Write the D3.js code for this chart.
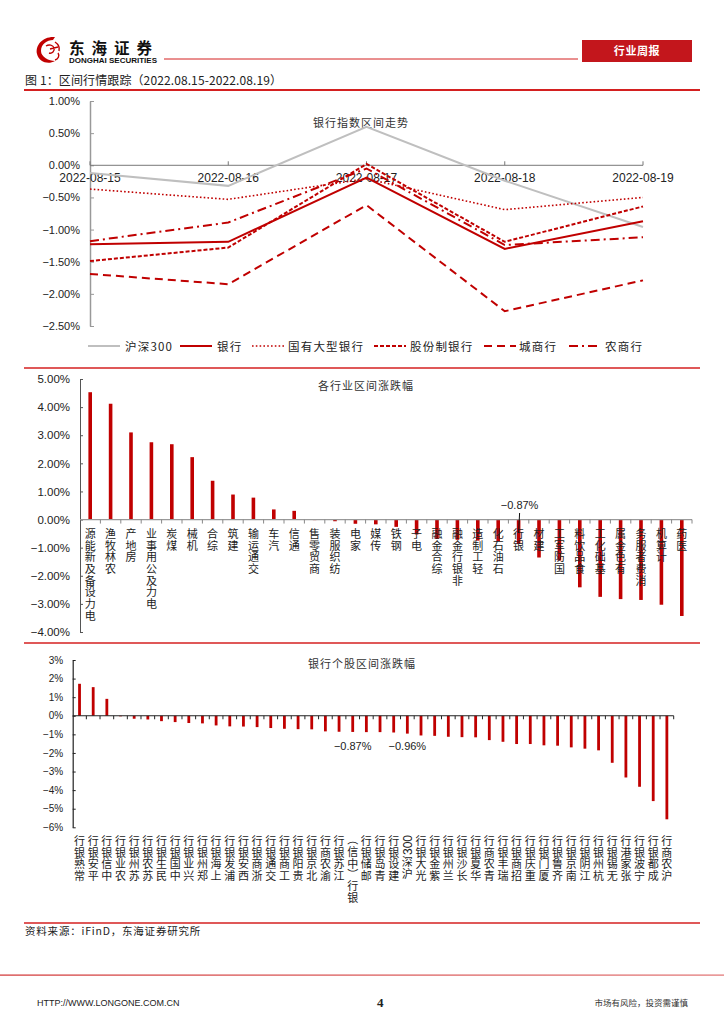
<!DOCTYPE html>
<html><head><meta charset="utf-8">
<script src="https://cdn.jsdelivr.net/npm/d3@7"></script>
<style>
body{margin:0;background:#fff;}
svg{display:block;}
.cjk{font-family:"Noto Sans CJK SC","Noto Sans",sans-serif;}
.num{font-family:"Liberation Sans",Arial,sans-serif;}
</style></head>
<body>
<svg id="c" width="724" height="1024"></svg>
<script>
// ---------- DATA ----------
const dates = ['2022-08-15','2022-08-16','2022-08-17','2022-08-18','2022-08-19'];
const lineNames = ['沪深300','银行','国有大型银行','股份制银行','城商行','农商行'];
const hs300   = [-0.12,-0.32, 0.60,-0.24,-0.96];
const bankIdx = [-1.23,-1.19,-0.19,-1.30,-0.87];
const bigBank = [-0.37,-0.53,-0.21,-0.69,-0.50];
const jointBank=[-1.49,-1.28, 0.02,-1.19,-0.64];
const cityBank= [-1.69,-1.85,-0.62,-2.27,-1.79];
const ruralBank=[-1.18,-0.89,-0.05,-1.24,-1.12];
const lineTicks = [1.0,0.5,0.0,-0.5,-1.0,-1.5,-2.0,-2.5];

const industries = ['电力设备及新能源','农林牧渔','房地产','电力及公用事业','煤炭','机械','综合','建筑','交通运输','汽车','通信','商贸零售','纺织服装','家电','传媒','钢铁','电子','综合金融','非银行金融','轻工制造','石油石化','银行','建材','国防军工','食品饮料','基础化工','有色金属','消费者服务','计算机','医药'];
const industryChg = [4.53,4.12,3.10,2.75,2.68,2.22,1.38,0.89,0.78,0.36,0.31,-0.02,-0.06,-0.15,-0.17,-0.26,-0.53,-0.69,-0.72,-0.75,-0.77,-0.87,-1.35,-1.46,-2.41,-2.75,-2.83,-2.86,-3.03,-3.43];
const industryTicks = [5,4,3,2,1,0,-1,-2,-3,-4];

const stocks = ['常熟银行','平安银行','中信银行','农业银行','苏州银行','苏农银行','民生银行','中国银行','兴业银行','郑州银行','上海银行','浦发银行','西安银行','浙商银行','交通银行','工商银行','贵阳银行','北京银行','渝农商行','江苏银行','银行（中信）','邮储银行','青岛银行','建设银行','沪深300','光大银行','紫金银行','兰州银行','长沙银行','华夏银行','青农商行','瑞丰银行','招商银行','重庆银行','厦门银行','齐鲁银行','南京银行','江阴银行','杭州银行','无锡银行','张家港行','宁波银行','成都银行','沪农商行'];
const stockChg = [1.72,1.54,0.91,-0.03,-0.16,-0.20,-0.29,-0.34,-0.39,-0.41,-0.52,-0.57,-0.58,-0.61,-0.66,-0.70,-0.72,-0.73,-0.84,-0.86,-0.87,-0.88,-0.88,-0.90,-0.96,-1.06,-1.08,-1.13,-1.15,-1.16,-1.31,-1.40,-1.52,-1.52,-1.59,-1.61,-1.70,-1.77,-1.86,-2.53,-3.32,-3.82,-4.59,-5.57];
const stockTicks = [3,2,1,0,-1,-2,-3,-4,-5,-6];

// ---------- DRAW ----------
const RED = '#C00000', LRED='#D42020', GRAY='#BFBFBF';
const svg = d3.select('#c');

// header
const logo = svg.append('g');
logo.append('path').attr('d','M55 37 C43 36 35 45 37 54 C39 62 48 65 55 61 C49 61 41 57 41 51 C41 44 47 40 53 40 Z').attr('fill',RED);
logo.append('path').attr('d','M46 46 C49 44 53 45 54 48 C55 51 52 54 49 53 M50 49 L58 47 M55 42 C58 44 60 47 59 51 M58 53 C60 56 58 59 55 60').attr('fill','none').attr('stroke',RED).attr('stroke-width',1.4);
svg.append('text').attr('class','cjk').attr('x',69).attr('y',53.5).attr('font-size',15.5).attr('font-weight',700).attr('letter-spacing',7).attr('fill','#111').text('东海证券');
svg.append('text').attr('class','num').attr('x',69).attr('y',63).attr('font-size',6.5).attr('font-weight',700).attr('textLength',88).attr('lengthAdjust','spacingAndGlyphs').attr('fill','#111').text('DONGHAI SECURITIES');
svg.append('line').attr('x1',164).attr('x2',578).attr('y1',59).attr('y2',59).attr('stroke',LRED).attr('stroke-width',1);
svg.append('rect').attr('x',582).attr('y',40).attr('width',110).attr('height',22).attr('fill','#C3161C');
svg.append('text').attr('class','cjk').attr('x',637).attr('y',55).attr('text-anchor','middle').attr('font-size',11).attr('font-weight',700).attr('letter-spacing',0.6).attr('fill','#fff').text('行业周报');

svg.append('text').attr('class','cjk').attr('x',25).attr('y',85).attr('font-size',12).attr('fill','#222').attr('textLength',257).attr('lengthAdjust','spacing').text('图 1：区间行情跟踪（2022.08.15-2022.08.19）');
svg.append('line').attr('x1',24).attr('x2',700).attr('y1',90).attr('y2',90).attr('stroke',LRED).attr('stroke-width',2);
[368,643,923].forEach(y=>svg.append('line').attr('x1',24).attr('x2',700).attr('y1',y).attr('y2',y).attr('stroke',LRED).attr('stroke-width',1.3));

// ---------- chart 1 ----------
const x1 = d3.scalePoint().domain(dates).range([90,643]);
const y1 = d3.scaleLinear().domain([-2.5,1.0]).range([326,101]);
const fmt2 = v => d3.format('.2f')(v) + '%';
const ax1 = svg.append('g').attr('transform','translate(90,0)').call(d3.axisLeft(y1).tickValues(lineTicks).tickFormat(fmt2).tickSizeInner(-4).tickSizeOuter(0).tickPadding(10));
ax1.select('.domain').attr('stroke','#999').attr('stroke-width',1.5);
ax1.selectAll('.tick line').attr('stroke','#999');
ax1.selectAll('text').attr('class','num').attr('font-size',11).attr('fill','#222');
svg.append('line').attr('x1',90).attr('x2',643).attr('y1',y1(0)).attr('y2',y1(0)).attr('stroke','#777').attr('stroke-width',1);
dates.forEach(d=>{
  svg.append('line').attr('x1',x1(d)).attr('x2',x1(d)).attr('y1',y1(0)).attr('y2',y1(0)-4).attr('stroke','#777');
  svg.append('text').attr('class','num').attr('x',x1(d)).attr('y',y1(0)+17).attr('text-anchor','middle').attr('font-size',12).attr('fill','#222').text(d);
});
svg.append('text').attr('class','cjk').attr('x',361).attr('y',127).attr('text-anchor','middle').attr('font-size',11).attr('letter-spacing',1).attr('fill','#333').text('银行指数区间走势');

const lineSeries = [
  {name:lineNames[0], vals:hs300, color:GRAY, w:2, dash:null},
  {name:lineNames[1], vals:bankIdx, color:RED, w:2, dash:null},
  {name:lineNames[2], vals:bigBank, color:RED, w:1.6, dash:'1.6,2.2'},
  {name:lineNames[3], vals:jointBank, color:RED, w:2, dash:'4,2'},
  {name:lineNames[4], vals:cityBank, color:RED, w:2, dash:'8,5'},
  {name:lineNames[5], vals:ruralBank, color:RED, w:2, dash:'9,4,2,4'}
];
const lineGen = d3.line().x((v,i)=>x1(dates[i])).y(v=>y1(v));
lineSeries.forEach(s=>{
  svg.append('path').attr('d',lineGen(s.vals)).attr('fill','none').attr('stroke',s.color).attr('stroke-width',s.w).attr('stroke-dasharray',s.dash);
});
// legend
const legPos = [[88,125],[180,217],[252,288],[374,410],[484,519],[569,605]];
lineSeries.forEach((s,i)=>{
  const [lx,tx] = legPos[i];
  svg.append('line').attr('x1',lx).attr('x2',lx+32).attr('y1',346).attr('y2',346).attr('stroke',s.color).attr('stroke-width',s.w).attr('stroke-dasharray',s.dash);
  svg.append('text').attr('class','cjk').attr('x',tx).attr('y',350.5).attr('font-size',11.5).attr('letter-spacing',1.2).attr('fill','#222').text(s.name);
});

// vertical label helper: upright CJK chars stacked, read bottom-to-top; ascii runs & parens rotated
function vlabel(g, text, x, y0, fs, step){
  const tokens=[]; let buf='';
  for(const ch of text){
    const asc = ch.charCodeAt(0)<128;
    if(asc){buf+=ch;continue;}
    if(buf){tokens.push({t:buf,rot:true});buf='';}
    tokens.push({t:ch,rot:(ch==='（'||ch==='）')});
  }
  if(buf) tokens.push({t:buf,rot:true});
  tokens.reverse();
  let y=y0;
  tokens.forEach(tk=>{
    if(!tk.rot){
      g.append('text').attr('class','cjk').attr('x',x).attr('y',y+fs*0.9).attr('text-anchor','middle').attr('font-size',fs).attr('fill','#222').text(tk.t);
      y+=step;
    } else {
      const isAsc = tk.t.charCodeAt(0)<128;
      const t = g.append('text').attr('class',isAsc?'num':'cjk').attr('font-size',isAsc?fs+1:fs).attr('fill','#222').text(tk.t);
      let L = isAsc ? t.node().getComputedTextLength() : fs*0.9;
      t.attr('transform',`translate(${x+fs*0.38},${y+L}) rotate(-90)`);
      y+=L+1;
    }
  });
}

// ---------- chart 2 ----------
const x2 = d3.scaleBand().domain(industries).range([80,692]);
const y2 = d3.scaleLinear().domain([-4,5]).range([632,379]);
const ax2 = svg.append('g').attr('transform','translate(80,0)').call(d3.axisLeft(y2).tickValues(industryTicks).tickFormat(fmt2).tickSizeInner(-3).tickSizeOuter(0).tickPadding(10));
ax2.select('.domain').attr('stroke','#555');
ax2.selectAll('.tick line').attr('stroke','#555');
ax2.selectAll('text').attr('class','num').attr('font-size',11.5).attr('fill','#222');
svg.append('text').attr('class','cjk').attr('x',366).attr('y',390).attr('text-anchor','middle').attr('font-size',11).attr('letter-spacing',1).attr('fill','#333').text('各行业区间涨跌幅');
svg.selectAll('.b2').data(industries).enter().append('rect')
  .attr('x',d=>x2(d)+x2.bandwidth()/2-1.8).attr('width',3.6)
  .attr('y',(d,i)=>Math.min(y2(industryChg[i]),y2(0))).attr('height',(d,i)=>Math.abs(y2(industryChg[i])-y2(0)))
  .attr('fill',RED);
svg.append('line').attr('x1',80).attr('x2',692).attr('y1',y2(0)).attr('y2',y2(0)).attr('stroke','#999').attr('stroke-width',1.2);
industries.forEach((d,i)=>{
  svg.append('line').attr('x1',x2(d)+x2.bandwidth()).attr('x2',x2(d)+x2.bandwidth()).attr('y1',y2(0)).attr('y2',y2(0)+4).attr('stroke','#888');
});
const g2 = svg.append('g');
industries.forEach(d=>vlabel(g2,d,x2(d)+x2.bandwidth()/2,528,11,11.7));
const bx = x2('银行')+x2.bandwidth()/2;
svg.append('line').attr('x1',bx+1).attr('x2',bx).attr('y1',513).attr('y2',533).attr('stroke','#111').attr('stroke-width',1);
svg.append('text').attr('class','num').attr('x',bx+1).attr('y',509).attr('text-anchor','middle').attr('font-size',11).attr('fill','#222').text(d3.format('.2f')(industryChg[21])+'%');

// ---------- chart 3 ----------
const x3 = d3.scaleBand().domain(stocks).range([72.7,673.7]);
const y3 = d3.scaleLinear().domain([-6,3]).range([827.3,660]);
const ax3 = svg.append('g').attr('transform','translate(72.7,0)').call(d3.axisLeft(y3).tickValues(stockTicks).tickFormat(v=>d3.format('d')(v)+'%').tickSizeInner(-3).tickSizeOuter(0).tickPadding(9.5));
ax3.select('.domain').attr('stroke','#222').attr('stroke-width',1.2);
ax3.selectAll('.tick line').attr('stroke','#222');
ax3.selectAll('text').attr('class','num').attr('font-size',10).attr('fill','#222');
svg.append('text').attr('class','cjk').attr('x',362).attr('y',668).attr('text-anchor','middle').attr('font-size',11).attr('letter-spacing',1).attr('fill','#333').text('银行个股区间涨跌幅');
svg.selectAll('.b3').data(stocks).enter().append('rect')
  .attr('x',d=>x3(d)+x3.bandwidth()/2-1.4).attr('width',2.8)
  .attr('y',(d,i)=>Math.min(y3(stockChg[i]),y3(0))).attr('height',(d,i)=>Math.abs(y3(stockChg[i])-y3(0)))
  .attr('fill',RED);
svg.append('line').attr('x1',72.7).attr('x2',673.7).attr('y1',y3(0)).attr('y2',y3(0)).attr('stroke','#222').attr('stroke-width',1.2);
stocks.forEach(d=>{
  svg.append('line').attr('x1',x3(d)+x3.bandwidth()).attr('x2',x3(d)+x3.bandwidth()).attr('y1',y3(0)).attr('y2',y3(0)+3.5).attr('stroke','#222');
});
const g3 = svg.append('g');
stocks.forEach(d=>vlabel(g3,d,x3(d)+x3.bandwidth()/2,835,11,11.7));
['银行（中信）','沪深300'].forEach(n=>{
  const i = stocks.indexOf(n);
  svg.append('text').attr('class','num').attr('x',x3(n)+x3.bandwidth()/2).attr('y',750).attr('text-anchor','middle').attr('font-size',11).attr('fill','#222').text(d3.format('.2f')(stockChg[i])+'%');
});

// source & footer
svg.append('text').attr('class','cjk').attr('x',25).attr('y',935).attr('font-size',10.5).attr('letter-spacing',0.8).attr('fill','#222').text('资料来源：iFinD，东海证券研究所');
const fg = svg.append('defs').append('linearGradient').attr('id','fl');
fg.append('stop').attr('offset','0%').attr('stop-color','#D03030');
fg.append('stop').attr('offset','100%').attr('stop-color','#E07070');
svg.append('rect').attr('x',0).attr('y',974.5).attr('width',724).attr('height',1.2).attr('fill','url(#fl)');
svg.append('text').attr('class','num').attr('x',37).attr('y',1006).attr('font-size',9).attr('fill','#222').text('HTTP://WWW.LONGONE.COM.CN');
svg.append('text').attr('x',377).attr('y',1007).attr('font-family','Liberation Serif,serif').attr('font-size',13).attr('font-weight',700).attr('fill','#222').text('4');
svg.append('text').attr('class','cjk').attr('x',688).attr('y',1006).attr('text-anchor','end').attr('font-size',8.5).attr('fill','#333').text('市场有风险，投资需谨慎');
</script>
</body></html>
